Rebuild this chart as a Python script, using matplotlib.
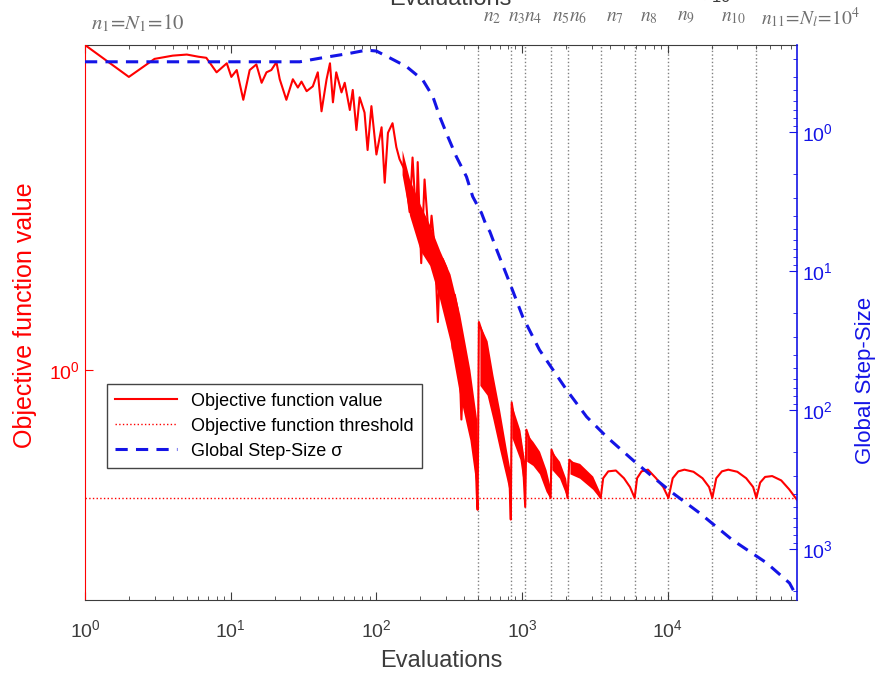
import numpy as np
import matplotlib
matplotlib.use("Agg")
from matplotlib import pyplot as plt
from matplotlib.ticker import NullFormatter, NullLocator, LogLocator

plt.rcParams['font.family'] = ['Liberation Sans', 'DejaVu Sans']
plt.rcParams['mathtext.fontset'] = 'custom'
plt.rcParams['mathtext.rm'] = 'Liberation Sans'
plt.rcParams['mathtext.it'] = 'Liberation Sans:italic'

# objective function value per evaluation (dense oscillation drawn as a band below)
obj_eval = [1, 2, 3, 4, 5, 6, 6.8, 8.0, 9.4, 10.1, 11, 12.2, 13.5, 15, 16.3, 17.6, 19, 20.6,
            21.7, 24.1, 26.7, 28.9, 30.6, 33.2, 36.6, 39.6, 42, 45.5, 48, 50.3, 53, 57.6,
            60.6, 65.7, 68.8, 72.9, 76.7, 82.9, 87, 92.4, 100, 108.5, 114, 120, 129, 137,
            144, 156, 169, 177, 188, 192, 203, 214, 225, 232, 239, 251, 264, 272, 285, 302,
            320, 334, 345, 361, 383, 400, 415, 430, 450, 470, 488, 495,
            505, 540, 575, 600, 630, 667, 700, 735, 780, 815, 836,
            848, 900, 966, 1010, 1050,
            1070, 1186, 1316, 1460, 1570,
            1590, 1805, 1990, 2050,
            2110, 2480, 3050, 3460,
            3600, 3900, 4400, 5000, 5500, 5920,
            6150, 6600, 7300, 8300, 9300, 10100,
            10800, 11800, 13000, 15000, 17300, 19200, 20200,
            21500, 23500, 26000, 30000, 34500, 38500, 40500,
            43000, 46500, 52000, 60000, 68000, 77000]
obj_value = [2.91, 2.62, 2.78, 2.81, 2.82, 2.80, 2.79, 2.66, 2.74, 2.62, 2.68, 2.43, 2.68, 2.73,
             2.57, 2.66, 2.68, 2.75, 2.60, 2.43, 2.60, 2.53, 2.58, 2.50, 2.54, 2.66, 2.34, 2.60,
             2.74, 2.41, 2.66, 2.49, 2.57, 2.35, 2.51, 2.20, 2.45, 2.33, 2.06, 2.38, 2.03, 2.22,
             1.85, 2.18, 2.25, 2.08, 2.00, 1.93, 1.68, 2.01, 1.62, 1.98, 1.42, 1.87, 1.62, 1.53,
             1.66, 1.50, 1.17, 1.39, 1.44, 1.40, 1.20, 1.07, 1.28, 1.22, 0.849, 1.05, 0.946, 0.99,
             0.813, 0.86, 0.667, 0.631,
             1.17, 1.12, 0.96, 1.00, 0.95, 0.90, 0.80, 0.80, 0.73, 0.72, 0.611,
             0.898, 0.83, 0.80, 0.75, 0.637,
             0.821, 0.77, 0.74, 0.69, 0.656,
             0.769, 0.72, 0.68, 0.656,
             0.744, 0.72, 0.69, 0.656,
             0.70, 0.716, 0.718, 0.70, 0.68, 0.656,
             0.70, 0.716, 0.72, 0.70, 0.68, 0.656,
             0.70, 0.716, 0.72, 0.715, 0.70, 0.68, 0.656,
             0.70, 0.716, 0.72, 0.715, 0.70, 0.68, 0.656,
             0.69, 0.703, 0.705, 0.695, 0.675, 0.652]

# envelope of the fast oscillation within each restart
band_eval = [[150, 169, 200, 232, 272, 320, 373, 438, 488],
             [513, 575, 630, 700, 780, 830],
             [850, 966, 1040],
             [1075, 1186, 1316, 1460, 1560],
             [1600, 1805, 1990, 2045],
             [2130, 2480, 3050, 3400]]
band_high = [[2.06, 1.87, 1.72, 1.61, 1.48, 1.37, 1.20, 1.00, 0.848],
             [1.16, 1.10, 0.984, 0.877, 0.769, 0.715],
             [0.89, 0.82, 0.74],
             [0.81, 0.79, 0.765, 0.72, 0.68],
             [0.765, 0.74, 0.70, 0.67],
             [0.742, 0.735, 0.705, 0.67]]
band_low = [[1.90, 1.66, 1.48, 1.41, 1.26, 1.10, 0.921, 0.794, 0.674],
            [0.95, 0.92, 0.85, 0.77, 0.70, 0.66],
            [0.80, 0.745, 0.67],
            [0.74, 0.73, 0.71, 0.67, 0.655],
            [0.72, 0.70, 0.665, 0.656],
            [0.71, 0.70, 0.675, 0.656]]

threshold = 0.656

# global step-size sigma
sigma_eval = [1, 10, 29.8, 40.9, 65.7, 85.5, 100, 124, 161, 208, 244, 272, 309, 354, 415, 458,
              526, 572, 600, 670, 822, 1010, 1316, 2020, 2770, 3800, 5740, 7900, 10800,
              16500, 21600, 27700, 47600, 68400, 77000]
sigma = [0.313, 0.313, 0.313, 0.295, 0.272, 0.258, 0.262, 0.294, 0.339, 0.423, 0.557, 0.776,
         1.08, 1.51, 2.10, 2.92, 3.83, 4.82, 5.2, 7.07, 12.2, 21.4, 37.0, 71.8, 112, 156, 229,
         304, 396, 551, 695, 861, 1260, 1760, 2215]

# restart points n_2 .. n_11
restarts = [495, 835, 1050, 1570, 2050, 3460, 5920, 10100, 20200, 40500]
restart_labels = [r'$n_2$', r'$n_3$', r'$n_4$', r'$n_5$', r'$n_6$', r'$n_7$', r'$n_8$',
                  r'$n_9$', r'$n_{10}$', r'$n_{11}\!=\!N_l\!=\!10^4$']
label_shift = [5, -3, -1, 1, 1, 5, 5, 9, 9, 5]

red = '#ff0000'
blue = '#1414e6'
gray = '#3c3c3c'

fig = plt.figure(figsize=(8.81, 6.79), dpi=100)
ax = fig.add_axes([85 / 881, 79 / 679, 712 / 881, 555 / 679])
ax2 = ax.twinx()

for xv in restarts:
    ax.axvline(xv, color='#808080', ls=':', lw=1.0, zorder=1)

for e, lo, hi in zip(band_eval, band_low, band_high):
    ax.fill_between(e, lo, hi, color=red, lw=0, zorder=2)
l1, = ax.plot(obj_eval, obj_value, color=red, lw=1.5, zorder=3, label='Objective function value')
l2 = ax.axhline(threshold, color=red, ls=':', lw=1.0, zorder=2, label='Objective function threshold')

l3, = ax2.plot(sigma_eval, sigma, color=blue, lw=2.2, ls='--', dashes=(4, 2.7),
               label='Global Step-Size σ')

ax.set_xscale('log')
ax.set_yscale('log')
ax.set_xlim(1, 77000)
ax.set_ylim(0.469, 2.91)
ax.yaxis.set_minor_locator(NullLocator())
ax.yaxis.set_minor_formatter(NullFormatter())
ax.set_yticks([1])

ax2.set_yscale('log')
ax2.set_ylim(2330, 0.237)
ax2.yaxis.set_major_locator(LogLocator(base=10, numticks=10))
ax2.yaxis.set_minor_locator(LogLocator(base=10, subs=np.arange(2, 10), numticks=10))
ax2.yaxis.set_minor_formatter(NullFormatter())
ax2.set_xlim(1, 77000)

ax.xaxis.set_minor_locator(LogLocator(base=10, subs=np.arange(2, 10), numticks=10))
ax.xaxis.set_minor_formatter(NullFormatter())

ax.tick_params(axis='x', which='both', direction='in', top=True, colors=gray, labelsize=14,
               pad=14)
ax.tick_params(axis='x', which='major', length=6)
ax.tick_params(axis='x', which='minor', length=3)
ax.tick_params(axis='y', which='both', direction='in', colors=red, labelsize=14, length=6)
ax2.tick_params(axis='y', which='major', direction='in', colors=blue, labelsize=14, length=6)
ax2.tick_params(axis='y', which='minor', direction='in', colors=blue, length=3)

ax.spines['left'].set_color(red)
ax.spines['right'].set_visible(False)
ax.spines['top'].set_color(gray)
ax.spines['bottom'].set_color(gray)
ax2.spines['left'].set_visible(False)
ax2.spines['top'].set_visible(False)
ax2.spines['bottom'].set_visible(False)
ax2.spines['right'].set_color(blue)
ax2.spines['right'].set_linewidth(1.2)

ax.set_xlabel('Evaluations', fontsize=17, color=gray, labelpad=6)
ax.set_ylabel('Objective function value', fontsize=18, color=red)
ax.yaxis.set_label_coords(-0.068, 0.514)
ax2.set_ylabel('Global Step-Size', fontsize=16, color=blue)
ax2.yaxis.set_label_coords(1.081, 0.396)

# restart labels above the top axis
ax.annotate(r'$n_1\!=\!N_1\!=\!10$', xy=(1, 1), xycoords=('data', 'axes fraction'),
            xytext=(4, 16), textcoords='offset points', ha='left', va='center',
            fontsize=15, color='#707070', math_fontfamily='stix')
for xv, txt, dx in zip(restarts, restart_labels, label_shift):
    ax.annotate(txt, xy=(xv, 1), xycoords=('data', 'axes fraction'),
                xytext=(dx * 0.72, 20), textcoords='offset points', ha='left', va='center',
                fontsize=14, color='#707070', math_fontfamily='stix')

fig.text(0.511, 1 - 5 / 679, 'Evaluations', fontsize=17, color=gray, ha='center',
         va='baseline')
fig.text(0.818, 1 - 2 / 679, r'$\times10^4$', fontsize=12, color=gray, ha='center',
         va='baseline')

leg = ax2.legend(handles=[l1, l2, l3], loc='lower left', bbox_to_anchor=(0.031, 0.238),
                 fontsize=13, frameon=True, fancybox=False, edgecolor='#444444',
                 framealpha=1, handlelength=3.4, borderpad=0.45, labelspacing=0.45,
                 borderaxespad=0)
leg.get_frame().set_linewidth(1.0)

fig.savefig('out.png', dpi=100)
